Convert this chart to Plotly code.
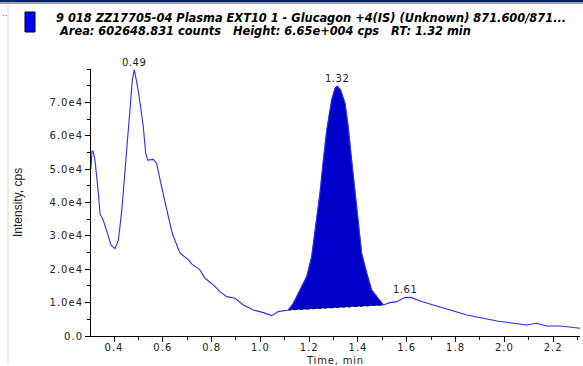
import plotly.graph_objects as go

# ---- data ----
time_min = [0.305, 0.310, 0.315, 0.322, 0.336, 0.343, 0.356, 0.370, 0.388, 0.404,
            0.418, 0.432, 0.445, 0.459, 0.466, 0.475, 0.483, 0.497, 0.507, 0.520,
            0.530, 0.538, 0.561, 0.575, 0.589, 0.609, 0.623, 0.639, 0.670, 0.705,
            0.718, 0.752, 0.773, 0.807, 0.834, 0.862, 0.896, 0.930, 0.971, 1.012,
            1.046, 1.073, 1.108, 1.114, 1.135, 1.162, 1.190, 1.210, 1.231, 1.244,
            1.258, 1.272, 1.292, 1.306, 1.315, 1.329, 1.347, 1.360, 1.374, 1.388,
            1.401, 1.415, 1.436, 1.456, 1.477, 1.504, 1.531, 1.559, 1.593, 1.620,
            1.654, 1.695, 1.736, 1.764, 1.805, 1.846, 1.887, 1.928, 1.970, 2.009,
            2.050, 2.091, 2.132, 2.173, 2.228, 2.270, 2.310]
intensity = [5.00e4, 5.55e4, 5.52e4, 5.27e4, 4.27e4, 3.65e4, 3.47e4, 3.17e4, 2.72e4, 2.62e4,
             2.87e4, 3.77e4, 4.87e4, 6.12e4, 6.77e4, 7.66e4, 7.98e4, 7.46e4, 6.97e4, 6.27e4,
             5.47e4, 5.27e4, 5.29e4, 5.17e4, 4.67e4, 4.07e4, 3.57e4, 3.07e4, 2.49e4, 2.28e4,
             2.16e4, 1.98e4, 1.73e4, 1.53e4, 1.33e4, 1.18e4, 1.13e4, 0.93e4, 0.78e4, 0.70e4,
             0.61e4, 0.73e4, 0.78e4, 0.78e4, 0.98e4, 1.38e4, 1.78e4, 2.37e4, 3.47e4, 4.27e4,
             5.27e4, 6.17e4, 7.07e4, 7.42e4, 7.49e4, 7.37e4, 6.97e4, 6.27e4, 5.27e4, 4.27e4,
             3.27e4, 2.48e4, 1.88e4, 1.38e4, 1.18e4, 0.93e4, 1.00e4, 1.03e4, 1.16e4, 1.15e4,
             1.05e4, 0.96e4, 0.86e4, 0.80e4, 0.71e4, 0.63e4, 0.57e4, 0.50e4, 0.45e4, 0.41e4,
             0.37e4, 0.33e4, 0.38e4, 0.30e4, 0.30e4, 0.26e4, 0.23e4]

# integrated peak window (start, end) with baseline end points
peak_window = [1.114, 1.504]
peak_labels = ["0.49", "1.32", "1.61"]

y_tick_vals = [0, 1e4, 2e4, 3e4, 4e4, 5e4, 6e4, 7e4]
y_tick_text = ["0.0", "1.0e4", "2.0e4", "3.0e4", "4.0e4", "5.0e4", "6.0e4", "7.0e4"]
x_tick_vals = [0.4, 0.6, 0.8, 1.0, 1.2, 1.4, 1.6, 1.8, 2.0, 2.2]
x_tick_text = ["0.4", "0.6", "0.8", "1.0", "1.2", "1.4", "1.6", "1.8", "2.0", "2.2"]

title_line1 = "9 018 ZZ17705-04 Plasma EXT10 1 - Glucagon +4(IS) (Unknown) 871.600/871..."
title_line2 = "Area: 602648.831 counts&nbsp;&nbsp;&nbsp;Height: 6.65e+004 cps&nbsp;&nbsp;&nbsp;RT: 1.32 min"
x_title = "Time, min"
y_title = "Intensity, cps"

# ---- geometry helpers ----
W, H = 583, 366
L, R, T, B = 91, 3, 69, 30
PW, PH = W - L - R, H - T - B


def px(xp):
    return (xp - L) / PW


def py(yp):
    return (H - B - yp) / PH


def spaced(s, sp=1):
    return '<span style="letter-spacing:%spx">%s</span>' % (sp, s)


TICK_FONT = dict(family="DejaVu Sans", size=10, color="#222222")

# ---- peak polygon ----
i0 = time_min.index(peak_window[0])
i1 = time_min.index(peak_window[1])
poly_x = time_min[i0:i1 + 1] + [time_min[i0]]
poly_y = intensity[i0:i1 + 1] + [intensity[i0]]

fig = go.Figure()
fig.add_trace(go.Scatter(x=poly_x, y=poly_y, fill="toself", fillcolor="#0000C8",
                         mode="lines", line=dict(color="#0000C8", width=0.5),
                         hoverinfo="skip", showlegend=False))
fig.add_trace(go.Scatter(x=[time_min[i0], time_min[i1]], y=[intensity[i0], intensity[i1]],
                         mode="lines", line=dict(color="#000000", width=1, dash="dot"),
                         hoverinfo="skip", showlegend=False))
fig.add_trace(go.Scatter(x=time_min, y=intensity, mode="lines",
                         line=dict(color="#2A2AFF", width=1.1),
                         showlegend=False))

# peak labels
for lab in peak_labels:
    v = float(lab)
    cand = [k for k, t in enumerate(time_min) if abs(t - v) <= 0.035]
    k = max(cand, key=lambda j: intensity[j])
    fig.add_annotation(x=time_min[k], y=intensity[k], text=spaced(lab, 0.5), showarrow=False,
                       yanchor="bottom", yshift=0, font=TICK_FONT)

# header
fig.add_annotation(xref="paper", yref="paper", x=px(54), y=py(18), text="<b><i>" + title_line1 + "</i></b>",
                   showarrow=False, xanchor="left", yanchor="middle",
                   font=dict(family="DejaVu Sans", size=11.4, color="#000000"))
fig.add_annotation(xref="paper", yref="paper", x=px(57), y=py(31), text="<b><i>" + title_line2 + "</i></b>",
                   showarrow=False, xanchor="left", yanchor="middle",
                   font=dict(family="DejaVu Sans", size=11.4, color="#000000"))

# axis titles
fig.add_annotation(xref="paper", yref="paper", x=px(18), y=py(203), text=y_title, textangle=-90,
                   showarrow=False, xanchor="center", yanchor="middle",
                   font=dict(family="Liberation Sans Narrow, Liberation Sans", size=12, color="#222222"))
fig.add_annotation(xref="paper", yref="paper", x=px(335), y=py(360), text=spaced(x_title, 0.8),
                   showarrow=False, xanchor="center", yanchor="middle", font=TICK_FONT)

# window decorations
shapes = [
    dict(type="rect", xref="paper", yref="paper", x0=px(0), x1=px(W), y0=py(2), y1=py(0),
         fillcolor="#0A246A", line=dict(width=0), layer="above"),
    dict(type="rect", xref="paper", yref="paper", x0=px(0), x1=px(W), y0=py(4), y1=py(2),
         fillcolor="#A0A0A0", line=dict(width=0), layer="above"),
    dict(type="line", xref="paper", yref="paper", x0=px(8), x1=px(8), y0=py(363), y1=py(5),
         line=dict(color="#DCD8CC", width=1)),
    dict(type="rect", xref="paper", yref="paper", x0=px(25), x1=px(35), y0=py(32), y1=py(12),
         fillcolor="#0000FF", line=dict(color="#000000", width=1)),
]
fig.update_layout(shapes=shapes)
fig.add_annotation(xref="paper", yref="paper", x=px(0), y=py(13), text="..", showarrow=False,
                   xanchor="left", yanchor="middle", font=dict(family="DejaVu Sans", size=9, color="#666666"))

fig.update_xaxes(range=[0.3057, 2.31], showgrid=False, zeroline=False,
                 showline=True, linecolor="#000000", linewidth=1,
                 ticks="outside", ticklen=5, tickcolor="#000000",
                 tickvals=x_tick_vals, ticktext=[spaced(t) for t in x_tick_text],
                 minor=dict(ticks="outside", ticklen=3, dtick=0.1, tick0=0, tickcolor="#000000"),
                 tickfont=TICK_FONT, ticklabelstandoff=-3)
fig.update_yaxes(range=[0, 8.0e4], showgrid=False, zeroline=False,
                 showline=True, linecolor="#000000", linewidth=1,
                 ticks="outside", ticklen=5, tickcolor="#000000",
                 tickvals=y_tick_vals, ticktext=[spaced(t) for t in y_tick_text],
                 minor=dict(ticks="outside", ticklen=3, dtick=5000, tick0=0, tickcolor="#000000"),
                 tickfont=TICK_FONT)

fig.update_layout(width=W, height=H, margin=dict(l=L, r=R, t=T, b=B),
                  paper_bgcolor="#FFFFFF", plot_bgcolor="#FFFFFF", showlegend=False)

fig.write_html("out.html", config={"displayModeBar": False},
               post_script="document.body.style.margin='0';document.body.style.padding='0';")
